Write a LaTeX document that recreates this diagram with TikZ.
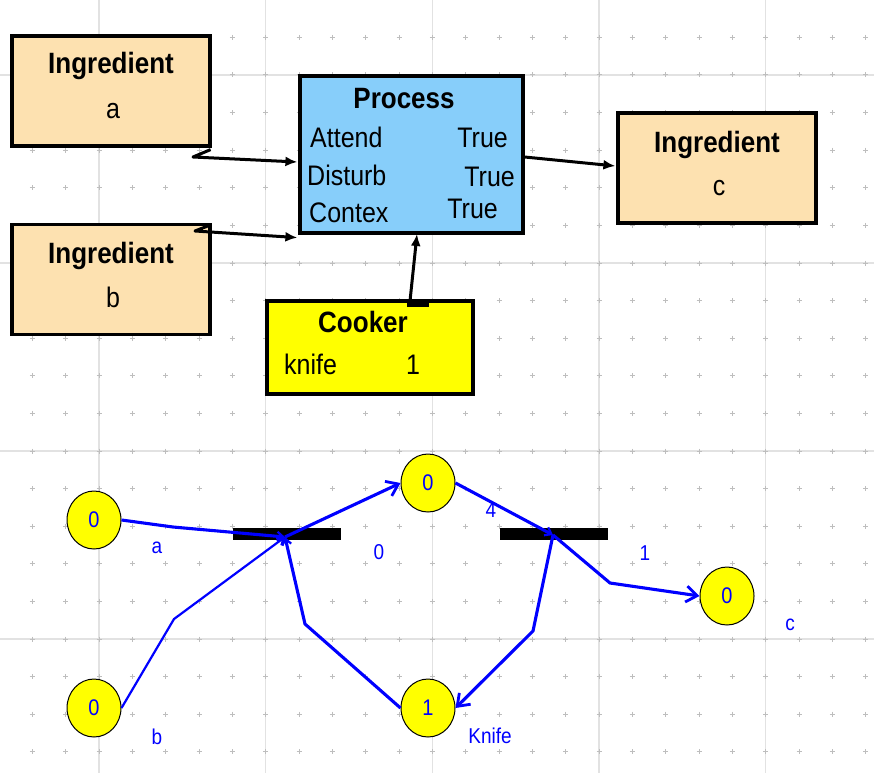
\documentclass[tikz,border=0pt]{standalone}
\usepackage{fontspec}
\setmainfont{Liberation Sans}
\usepackage{graphicx}
\usetikzlibrary{arrows.meta,shapes.geometric,calc}
\definecolor{ingr}{RGB}{253,225,176}
\definecolor{procblue}{RGB}{135,206,250}
\definecolor{cookyel}{RGB}{255,255,0}
\definecolor{gridln}{RGB}{226,226,226}
\definecolor{griddt}{RGB}{190,190,190}
\definecolor{netblue}{RGB}{0,0,255}
\newcommand\vst[1]{\scalebox{1}[1.13]{#1}}
\begin{document}
\begin{tikzpicture}[x=1pt,y=-1pt,
  gridline/.style={draw=gridln,line width=1.3pt},
  griddot/.style={draw=griddt,line width=1pt},
  ingbox/.style={draw=black,line width=3.2pt,fill=ingr,minimum width=198pt,minimum height=110pt,inner sep=0pt},
  procbox/.style={draw=black,line width=3.2pt,fill=procblue,minimum width=223pt,minimum height=157pt,inner sep=0pt},
  cookbox/.style={draw=black,line width=3.2pt,fill=cookyel,minimum width=206pt,minimum height=93pt,inner sep=0pt},
  title/.style={font=\fontsize{26}{26}\selectfont\bfseries,anchor=base,inner sep=0pt},
  body/.style={font=\fontsize{25}{25}\selectfont,anchor=base,inner sep=0pt},
  conn/.style={draw=black,line width=3pt,line join=round,-{Latex[length=12pt,width=10pt]}},
  place/.style={ellipse,draw=black,line width=1pt,fill=cookyel,minimum width=54pt,minimum height=58pt,inner sep=0pt,font=\fontsize{20}{20}\selectfont,text=netblue},
  trans/.style={rectangle,fill=black,minimum width=108pt,minimum height=12pt,inner sep=0pt},
  arc/.style={draw=netblue,line width=3.1pt,line join=round},
  tobar/.style={-{Straight Barb[length=6pt,width=9pt,line width=2.2pt]}},
  toplace/.style={-{Straight Barb[length=11pt,width=16pt,line width=2.8pt]}},
  plabel/.style={font=\fontsize{19}{19}\selectfont,text=netblue,inner sep=0pt}
]
\useasboundingbox (0,0) rectangle (874,773);
\fill[white] (0,0) rectangle (874,773);
% grid
\foreach \gx in {99,265.67,432.33,599,765.67} \draw[gridline] (\gx,0) -- (\gx,773);
\foreach \gy in {75,263,451,639} \draw[gridline] (0,\gy) -- (874,\gy);
\foreach \i in {-2,...,23} {
  \foreach \j in {-1,...,18} {
    \draw[griddot] ({99+33.333*\i},{75+37.6*\j}) +(-2.5,0) -- +(2.5,0) +(0,-2.5) -- +(0,2.5);
  }
}
% top boxes
\node[ingbox] (ia) at (111,91) {};
\node[title] (iat) at (111,74) {\vst{Ingredient}};
\node[body] (iav) at (113,118) {\vst{a}};
\node[ingbox] (ib) at (111,279.5) {};
\node[title] (ibt) at (111,263) {\vst{Ingredient}};
\node[body] (ibv) at (113,307) {\vst{b}};
\node[ingbox] (ic) at (717,168) {};
\node[title] (ict) at (717,152) {\vst{Ingredient}};
\node[body] (icv) at (719,195) {\vst{c}};
\node[procbox] (proc) at (411.5,154.5) {};
\node[title] (pt) at (404,109) {\vst{Process}};
\node[body,anchor=base west] (p1) at (310,147) {\vst{Attend}};
\node[body,anchor=base east] (p1v) at (508,147) {\vst{True}};
\node[body,anchor=base west] (p2) at (307,185) {\vst{Disturb}};
\node[body,anchor=base east] (p2v) at (515,186) {\vst{True}};
\node[body,anchor=base west] (p3) at (309,222) {\vst{Contex}};
\node[body,anchor=base east] (p3v) at (498,218) {\vst{True}};
\node[cookbox] (cook) at (370,347.5) {};
\node[title] (ckt) at (363,332) {\vst{Cooker}};
\node[body,anchor=base west] (ck1) at (284,374) {\vst{knife}};
\node[body] (ck1v) at (413,374) {\vst{1}};
\fill[black] (407,300) rectangle (429,307);
\coordinate (ckport) at (410,301);
\coordinate (procin) at (417,234);
% black connectors
\draw[conn] ($(ia.south east)+(-1,2)$) -- (193,157) -- ($(proc.west)+(-1,7.5)$);
\draw[conn] ($(ib.north east)+(-1,2)$) -- (195,231) -- ($(proc.south west)+(-1,3)$);
\draw[conn] ($(proc.east)+(0,2.5)$) -- ($(ic.west)+(-1,-2)$);
\draw[conn] (ckport) -- (procin);
% Petri net
\node[place] (pa) at (94,520) {\vst{0}};
\node[place] (pb) at (94,708) {\vst{0}};
\node[place] (ptop) at (428,483) {\vst{0}};
\node[place] (pc) at (727,596) {\vst{0}};
\node[place] (pk) at (428,708) {\vst{1}};
\node[trans] (t1) at (287,534) {};
\node[trans] (t2) at (554,534) {};
\coordinate (t1c) at (285,537);
\coordinate (t2c) at (553,535);
\draw[arc,tobar] (pa.east) -- (173,527) -- (t1c);
\draw[arc,tobar,line width=2.2pt] (pb.east) -- (174,619) -- (t1c);
\draw[arc,tobar] (pk.west) -- (305,624) -- (t1c);
\draw[arc,toplace] (t1c) -- (ptop.west);
\draw[arc,tobar] (ptop.east) -- (t2c);
\draw[arc,toplace] (t2c) -- (610,583) -- (pc.west);
\draw[arc,toplace] (t2c) -- (533,631) -- (pk.east);
\node[plabel] (la) at (157,548) {\vst{a}};
\node[plabel] (lb) at (157,737) {\vst{b}};
\node[plabel] (l0) at (379,552) {\vst{0}};
\node[plabel] (l4) at (491,510) {\vst{4}};
\node[plabel] (l1) at (645,553) {\vst{1}};
\node[plabel] (lc) at (790,625) {\vst{c}};
\node[plabel] (lk) at (490,736) {\vst{Knife}};
\end{tikzpicture}
\end{document}
